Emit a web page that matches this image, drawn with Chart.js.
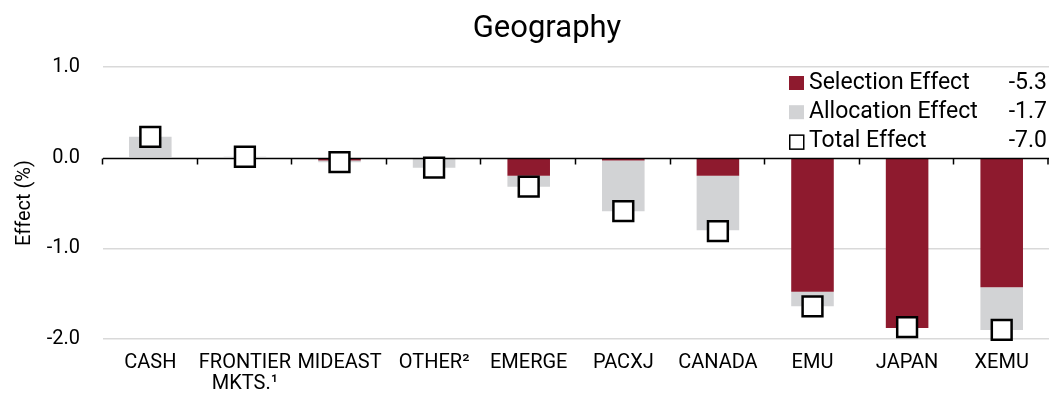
<!DOCTYPE html>
<html>
<head>
<meta charset="utf-8">
<script src="https://cdn.jsdelivr.net/npm/chart.js@4/dist/chart.umd.min.js"></script>
<style>
  html, body { margin: 0; padding: 0; background: #ffffff; overflow: hidden; }
  #wrap { width: 1049px; height: 396px; position: relative; }
  #chart { display: block; }
</style>
</head>
<body>
<div id="wrap"><canvas id="chart"></canvas></div>
<script>
// Regions and their attribution effects (%)
const categories = ['CASH', ['FRONTIER', 'MKTS.\u00B9'], 'MIDEAST', 'OTHER\u00B2', 'EMERGE', 'PACXJ', 'CANADA', 'EMU', 'JAPAN', 'XEMU'];
const selectionEffect = [0, 0, -0.03, 0, -0.20, -0.03, -0.20, -1.48, -1.88, -1.43];
const allocationEffect = [0.23, 0.01, -0.02, -0.11, -0.12, -0.56, -0.60, -0.16, 0, -0.47];
const totalEffect = [0.23, 0.01, -0.05, -0.11, -0.32, -0.59, -0.81, -1.64, -1.87, -1.90];

// Legend rows with the overall totals
const legendLabels = ['Selection Effect', 'Allocation Effect', 'Total Effect'];
const legendTotals = ['-5.3', '-1.7', '-7.0'];

const chartTitle = 'Geography';
const yTicks = [1.0, 0.0, -1.0, -2.0];

const RED = '#8e1a2e';
const GRAY = '#d2d3d5';
const FONT = 'Roboto, "Liberation Sans", sans-serif';

// Black zero line with short ticks between categories, drawn over the bars
const zeroLine = {
  id: 'zeroLine',
  afterDatasetDraw(chart, args) {
    if (args.index !== 0) return;
    const { ctx, chartArea } = chart;
    const y0 = Math.round(chart.scales.y.getPixelForValue(0)) + 0.5;
    const n = categories.length;
    const step = (chartArea.right - chartArea.left) / n;
    ctx.save();
    ctx.strokeStyle = '#000000';
    ctx.lineWidth = 1.5;
    ctx.beginPath();
    ctx.moveTo(chartArea.left, y0);
    ctx.lineTo(chartArea.right, y0);
    for (let i = 0; i <= n; i++) {
      const x = Math.min(Math.round(chartArea.left + i * step) - 0.5, chartArea.right - 1);
      ctx.moveTo(x, y0);
      ctx.lineTo(x, y0 + 6);
    }
    ctx.stroke();
    ctx.restore();
  }
};

// Title, plus the legend in the top right corner with the total for each effect
const effectLegend = {
  id: 'effectLegend',
  afterDraw(chart) {
    const { ctx, chartArea } = chart;
    ctx.save();
    ctx.fillStyle = '#000000';
    ctx.font = '31px ' + FONT;
    ctx.textAlign = 'center';
    ctx.textBaseline = 'alphabetic';
    ctx.fillText(chartTitle, 547, 37);

    const textX = chartArea.right - 240;
    const markX = chartArea.right - 260;
    const valueX = chartArea.right - 2;
    const base0 = chartArea.top + 22;
    const rowH = 29.2;
    ctx.font = '23px ' + FONT;
    legendLabels.forEach((label, i) => {
      const by = base0 + i * rowH;
      if (i === 0 || i === 1) {
        ctx.fillStyle = i === 0 ? RED : GRAY;
        ctx.fillRect(markX, by - 13, 15, 14);
      } else {
        ctx.fillStyle = '#ffffff';
        ctx.fillRect(markX, by - 13, 15, 15);
        ctx.strokeStyle = '#000000';
        ctx.lineWidth = 1.5;
        ctx.strokeRect(markX + 0.75, by - 12.25, 14, 14);
      }
      ctx.fillStyle = '#000000';
      ctx.textAlign = 'left';
      ctx.fillText(label, textX, by);
      ctx.textAlign = 'right';
      ctx.fillText(legendTotals[i], valueX, by);
    });
    ctx.restore();
  }
};

new Chart(document.getElementById('chart'), {
  type: 'bar',
  data: {
    labels: categories,
    datasets: [
      {
        label: legendLabels[0],
        data: selectionEffect,
        backgroundColor: RED,
        categoryPercentage: 1,
        barPercentage: 0.45,
        stack: 'effects'
      },
      {
        label: legendLabels[1],
        data: allocationEffect,
        backgroundColor: GRAY,
        categoryPercentage: 1,
        barPercentage: 0.45,
        stack: 'effects'
      },
      {
        type: 'line',
        label: legendLabels[2],
        data: totalEffect,
        showLine: false,
        pointStyle: 'rect',
        pointRadius: 14,
        pointBackgroundColor: '#ffffff',
        pointBorderColor: '#000000',
        pointBorderWidth: 2.5,
        stack: 'total',
        order: -1,
        clip: false
      }
    ]
  },
  options: {
    responsive: true,
    maintainAspectRatio: false,
    animation: false,
    events: [],
    layout: { autoPadding: false, padding: { top: 67, right: 0, bottom: 2, left: 0 } },
    plugins: {
      legend: { display: false },
      tooltip: { enabled: false },
      title: { display: false }
    },
    scales: {
      x: {
        stacked: true,
        grid: { display: false, drawTicks: false },
        border: { display: false },
        afterFit(scale) {
          scale.height = 55;
          scale.paddingLeft = 0;
          scale.paddingRight = 0;
        },
        ticks: {
          color: '#000000',
          font: { family: FONT, size: 20, lineHeight: 1.05 },
          padding: 13,
          maxRotation: 0,
          autoSkip: false
        }
      },
      y: {
        stacked: true,
        min: -2,
        max: 1,
        afterBuildTicks(scale) {
          scale.ticks = yTicks.map(v => ({ value: v }));
        },
        afterFit(scale) { scale.width = 103; },
        grid: {
          drawTicks: false,
          color: (c) => (c.tick && c.tick.value === 0 ? 'rgba(0,0,0,0)' : '#d9d9d9'),
          lineWidth: 1.5
        },
        border: { display: false },
        ticks: {
          color: '#000000',
          font: { family: FONT, size: 20 },
          padding: 23,
          callback: (v) => Number(v).toFixed(1)
        },
        title: {
          display: true,
          text: 'Effect (%)',
          color: '#000000',
          font: { family: FONT, size: 20 },
          padding: { top: 13, bottom: 0 }
        }
      }
    }
  },
  plugins: [zeroLine, effectLegend]
});
</script>
</body>
</html>
